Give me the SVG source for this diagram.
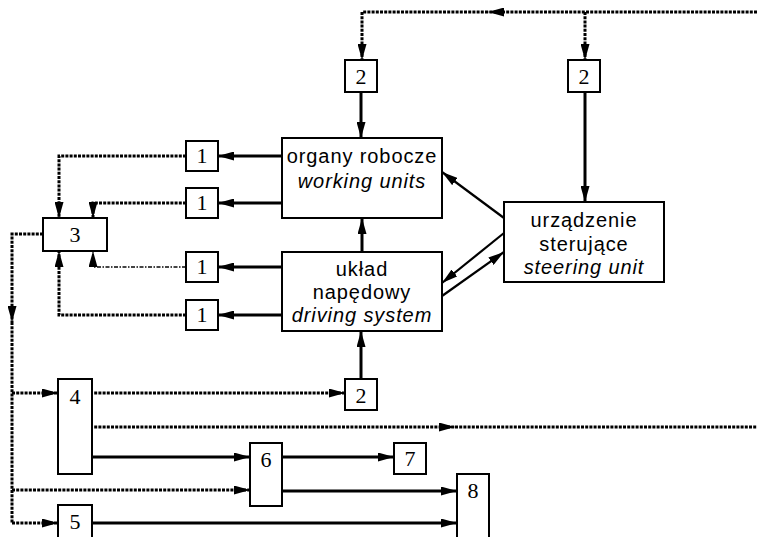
<svg xmlns="http://www.w3.org/2000/svg" width="757" height="537" viewBox="0 0 757 537">
<style>
.box{fill:#fff;stroke:#000;stroke-width:2}
.num{font-family:"Liberation Serif","Times New Roman",serif;font-size:22px;text-anchor:middle;fill:#000}
.lbl{font-family:"Liberation Sans",Arial,sans-serif;font-size:20px;letter-spacing:0.9px;text-anchor:middle;fill:#000}
.it{font-style:italic}
.solid{fill:none;stroke:#000;stroke-width:3}
.thin{fill:none;stroke:#000;stroke-width:2.2}
.dot{fill:none;stroke:#000;stroke-width:3;stroke-dasharray:3 1.2}
.dot2{fill:none;stroke:#444;stroke-width:2;stroke-dasharray:4 1.5 1.5 1.5}
</style>
<defs>
<marker id="ah" viewBox="0 0 16 9" refX="16" refY="4.5" markerWidth="16" markerHeight="9" markerUnits="userSpaceOnUse" orient="auto"><path d="M0,0 L16,4.5 L0,9 Z" fill="#000"/></marker>
</defs>
<g id="connectors">
<path class="dot" d="M757,12 L488,12" marker-end="url(#ah)"/>
<path class="dot" d="M488,12 L362,12 L362,60" marker-end="url(#ah)"/>
<path class="dot" d="M585,12 L585,60" marker-end="url(#ah)"/>
<path class="solid" d="M361,92 L361,138" marker-end="url(#ah)"/>
<path class="solid" d="M585,92 L585,202" marker-end="url(#ah)"/>
<path class="solid" d="M362,252 L362,218" marker-end="url(#ah)"/>
<path class="solid" d="M361,379 L361,331" marker-end="url(#ah)"/>
<path class="solid" d="M286,156 L218,156" marker-end="url(#ah)"/>
<path class="solid" d="M286,203 L218,203" marker-end="url(#ah)"/>
<path class="solid" d="M286,267 L218,267" marker-end="url(#ah)"/>
<path class="solid" d="M286,315 L218,315" marker-end="url(#ah)"/>
<path class="dot" d="M186,156 L59,156 L59,218" marker-end="url(#ah)"/>
<path class="dot" d="M186,203 L93,203 L93,218" marker-end="url(#ah)"/>
<path class="dot2" d="M186,267 L93,267 L93,251" marker-end="url(#ah)"/>
<path class="dot" d="M186,315 L59,315 L59,251" marker-end="url(#ah)"/>
<path class="dot" d="M43,234 L12,234 L12,322" marker-end="url(#ah)"/>
<path class="dot" d="M12,322 L12,523"/>
<path class="dot" d="M12,393 L58,393" marker-end="url(#ah)"/>
<path class="dot" d="M12,490 L250,490" marker-end="url(#ah)"/>
<path class="dot" d="M12,523 L58,523" marker-end="url(#ah)"/>
<path class="dot" d="M90,393 L345,393" marker-end="url(#ah)"/>
<path class="dot" d="M90,427 L455,427" marker-end="url(#ah)"/>
<path class="dot" d="M455,427 L757,427"/>
<path class="solid" d="M90,457 L250,457" marker-end="url(#ah)"/>
<path class="solid" d="M282,457 L394,457" marker-end="url(#ah)"/>
<path class="solid" d="M282,491 L457,491" marker-end="url(#ah)"/>
<path class="solid" d="M90,523 L457,523" marker-end="url(#ah)"/>
<path class="thin" d="M504,218 L442,172" marker-end="url(#ah)"/>
<path class="thin" d="M504,233 L442,283" marker-end="url(#ah)"/>
<path class="thin" d="M442,296 L504,252" marker-end="url(#ah)"/>
</g>
<g id="organy">
<rect class="box" x="282" y="138" width="160" height="80"/>
<text class="lbl" x="362" y="163">organy robocze</text>
<text class="lbl it" x="362" y="188">working units</text>
</g>
<g id="uklad">
<rect class="box" x="282" y="252" width="160" height="79"/>
<text class="lbl" x="362" y="276">układ</text>
<text class="lbl" x="362" y="299">napędowy</text>
<text class="lbl it" x="362" y="322">driving system</text>
</g>
<g id="urzadzenie">
<rect class="box" x="504" y="202" width="160" height="80"/>
<text class="lbl" x="584" y="227">urządzenie</text>
<text class="lbl" x="584" y="251">sterujące</text>
<text class="lbl it" x="584" y="274">steering unit</text>
</g>
<g id="n2a"><rect class="box" x="345" y="60" width="32" height="32"/><text class="num" x="361" y="84">2</text></g>
<g id="n2b"><rect class="box" x="568" y="60" width="32" height="32"/><text class="num" x="584" y="84">2</text></g>
<g id="n2c"><rect class="box" x="345" y="379" width="32" height="31"/><text class="num" x="361" y="403">2</text></g>
<g id="n1a"><rect class="box" x="186" y="141" width="32" height="30"/><text class="num" x="202" y="163">1</text></g>
<g id="n1b"><rect class="box" x="186" y="188" width="32" height="30"/><text class="num" x="202" y="210">1</text></g>
<g id="n1c"><rect class="box" x="186" y="252" width="32" height="30"/><text class="num" x="202" y="274">1</text></g>
<g id="n1d"><rect class="box" x="186" y="300" width="32" height="30"/><text class="num" x="202" y="322">1</text></g>
<g id="n3"><rect class="box" x="43" y="218" width="64" height="33"/><text class="num" x="75" y="242">3</text></g>
<g id="n4"><rect class="box" x="58" y="379" width="34" height="95"/><text class="num" x="75" y="404">4</text></g>
<g id="n5"><rect class="box" x="58" y="505" width="34" height="45"/><text class="num" x="75" y="529">5</text></g>
<g id="n6"><rect class="box" x="250" y="443" width="32" height="63"/><text class="num" x="266" y="467">6</text></g>
<g id="n7"><rect class="box" x="394" y="443" width="32" height="31"/><text class="num" x="410" y="466">7</text></g>
<g id="n8"><rect class="box" x="457" y="474" width="32" height="76"/><text class="num" x="473" y="498">8</text></g>
</svg>
